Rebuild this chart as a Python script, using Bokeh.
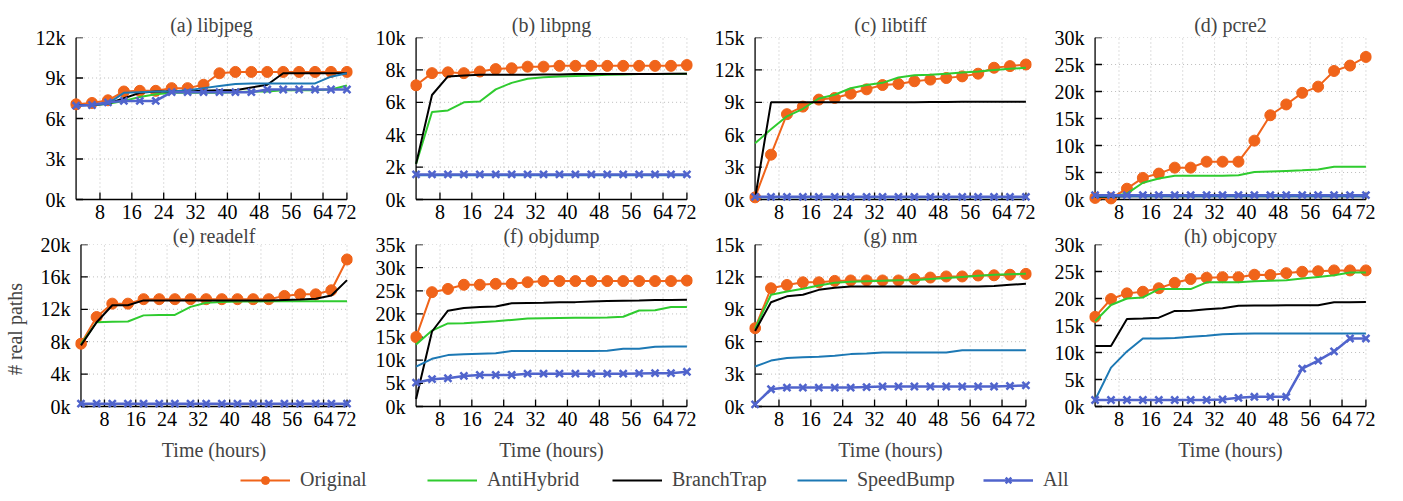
from bokeh.plotting import figure
from bokeh.layouts import column, row
from bokeh.models import FixedTicker, PrintfTickFormatter, Legend, LegendItem
from bokeh.embed import file_html
from bokeh.resources import INLINE

# ---------------- data (thousands of real paths) ----------------
sample_index = list(range(18))
x_tick_pos = [1.5, 3.5, 5.5, 7.5, 9.5, 11.5, 13.5, 15.5, 17]
x_tick_labels = ["8", "16", "24", "32", "40", "48", "56", "64", "72"]

titles = ["(a) libjpeg", "(b) libpng", "(c) libtiff", "(d) pcre2",
          "(e) readelf", "(f) objdump", "(g) nm", "(h) objcopy"]
y_max = [12, 10, 15, 30, 20, 35, 15, 30]
y_step = [3, 2, 3, 5, 4, 5, 3, 5]

series_names = ["Original", "AntiHybrid", "BranchTrap", "SpeedBump", "All"]

libjpeg_original = [7.05, 7.15, 7.35, 8.0, 8.05, 8.05, 8.25, 8.25, 8.5, 9.35, 9.45, 9.45, 9.45, 9.45, 9.45, 9.45, 9.45, 9.45]
libjpeg_antihybrid = [7.0, 7.0, 7.1, 7.3, 7.6, 7.8, 7.9, 7.9, 7.9, 7.9, 7.95, 8.0, 8.0, 8.1, 8.1, 8.1, 8.15, 8.45]
libjpeg_branchtrap = [7.0, 7.0, 7.1, 7.5, 7.9, 8.0, 8.0, 8.0, 8.05, 8.1, 8.1, 8.3, 8.5, 9.35, 9.35, 9.35, 9.35, 9.35]
libjpeg_speedbump = [6.95, 7.0, 7.1, 7.9, 7.95, 8.0, 8.0, 8.1, 8.25, 8.4, 8.55, 8.6, 8.6, 8.6, 8.6, 8.6, 9.1, 9.35]
libjpeg_all = [6.95, 7.0, 7.2, 7.3, 7.3, 7.3, 7.95, 7.95, 7.95, 7.95, 7.95, 7.95, 8.15, 8.15, 8.15, 8.15, 8.15, 8.15]

libpng_original = [7.05, 7.8, 7.85, 7.8, 7.9, 8.05, 8.1, 8.2, 8.2, 8.25, 8.25, 8.25, 8.25, 8.25, 8.25, 8.25, 8.25, 8.3]
libpng_antihybrid = [2.2, 5.4, 5.5, 6.0, 6.05, 6.8, 7.2, 7.45, 7.55, 7.6, 7.63, 7.66, 7.7, 7.72, 7.74, 7.75, 7.75, 7.77]
libpng_branchtrap = [2.2, 6.45, 7.6, 7.65, 7.7, 7.7, 7.7, 7.7, 7.72, 7.72, 7.74, 7.74, 7.75, 7.75, 7.75, 7.75, 7.77, 7.77]
libpng_speedbump = [1.5, 1.5, 1.5, 1.5, 1.5, 1.5, 1.5, 1.5, 1.5, 1.5, 1.5, 1.5, 1.5, 1.5, 1.5, 1.5, 1.5, 1.5]
libpng_all = [1.55, 1.55, 1.55, 1.55, 1.55, 1.55, 1.55, 1.55, 1.55, 1.55, 1.55, 1.55, 1.55, 1.55, 1.55, 1.55, 1.55, 1.55]

libtiff_original = [0.2, 4.15, 7.9, 8.6, 9.25, 9.4, 9.8, 10.2, 10.6, 10.7, 10.95, 11.1, 11.25, 11.4, 11.65, 12.2, 12.35, 12.5]
libtiff_antihybrid = [5.2, 6.5, 7.7, 8.4, 9.35, 9.7, 10.3, 10.6, 10.8, 11.3, 11.5, 11.55, 11.65, 11.75, 11.85, 12.0, 12.1, 12.2]
libtiff_branchtrap = [0.1, 9.0, 9.0, 9.0, 9.0, 9.0, 9.0, 9.0, 9.0, 9.0, 9.0, 9.02, 9.02, 9.05, 9.05, 9.05, 9.05, 9.05]
libtiff_speedbump = [0.2, 0.2, 0.2, 0.2, 0.2, 0.2, 0.2, 0.2, 0.2, 0.2, 0.2, 0.2, 0.2, 0.2, 0.2, 0.2, 0.2, 0.2]
libtiff_all = [0.25, 0.25, 0.25, 0.25, 0.25, 0.25, 0.25, 0.25, 0.25, 0.25, 0.25, 0.25, 0.25, 0.25, 0.25, 0.25, 0.25, 0.25]

pcre2_original = [0.3, 0.2, 2.0, 4.0, 4.8, 5.9, 5.9, 7.0, 7.0, 7.0, 10.9, 15.6, 17.6, 19.75, 20.9, 23.8, 24.8, 26.4]
pcre2_antihybrid = [0.5, 0.5, 1.1, 3.1, 3.9, 4.4, 4.4, 4.4, 4.4, 4.5, 5.1, 5.2, 5.3, 5.4, 5.55, 6.05, 6.05, 6.05]
pcre2_branchtrap = [0.5, 0.5, 0.6, 0.6, 0.6, 0.6, 0.6, 0.6, 0.6, 0.6, 0.6, 0.6, 0.6, 0.6, 0.6, 0.6, 0.6, 0.6]
pcre2_speedbump = [0.6, 0.6, 0.6, 0.6, 0.6, 0.6, 0.6, 0.6, 0.6, 0.6, 0.6, 0.6, 0.6, 0.6, 0.6, 0.6, 0.6, 0.6]
pcre2_all = [0.8, 0.8, 0.8, 0.8, 0.8, 0.8, 0.8, 0.8, 0.8, 0.8, 0.8, 0.8, 0.8, 0.8, 0.8, 0.8, 0.8, 0.8]

readelf_original = [7.75, 11.05, 12.7, 12.7, 13.25, 13.25, 13.25, 13.25, 13.25, 13.25, 13.25, 13.25, 13.25, 13.65, 13.85, 13.85, 14.35, 18.15]
readelf_antihybrid = [7.7, 10.4, 10.45, 10.5, 11.25, 11.3, 11.3, 12.3, 12.8, 12.9, 12.95, 12.95, 13.0, 13.0, 13.0, 13.0, 13.0, 13.0]
readelf_branchtrap = [7.55, 10.4, 12.5, 12.5, 13.1, 13.1, 13.1, 13.1, 13.1, 13.1, 13.1, 13.1, 13.1, 13.15, 13.2, 13.3, 13.7, 15.6]
readelf_speedbump = [0.3, 0.3, 0.3, 0.3, 0.3, 0.3, 0.3, 0.3, 0.3, 0.3, 0.3, 0.3, 0.3, 0.3, 0.3, 0.3, 0.3, 0.3]
readelf_all = [0.35, 0.35, 0.35, 0.35, 0.35, 0.35, 0.35, 0.35, 0.35, 0.35, 0.35, 0.35, 0.35, 0.35, 0.35, 0.35, 0.35, 0.35]

objdump_original = [15.0, 24.7, 25.4, 26.3, 26.3, 26.5, 26.5, 26.85, 27.1, 27.1, 27.1, 27.1, 27.1, 27.1, 27.1, 27.1, 27.1, 27.2]
objdump_antihybrid = [13.4, 16.4, 17.95, 18.0, 18.2, 18.4, 18.7, 19.0, 19.05, 19.1, 19.15, 19.2, 19.25, 19.4, 20.75, 20.8, 21.5, 21.5]
objdump_branchtrap = [1.6, 16.2, 20.7, 21.3, 21.5, 21.6, 22.3, 22.35, 22.4, 22.5, 22.55, 22.7, 22.8, 22.85, 22.9, 23.0, 23.0, 23.05]
objdump_speedbump = [8.6, 10.3, 11.1, 11.3, 11.4, 11.5, 12.0, 12.0, 12.0, 12.0, 12.0, 12.0, 12.05, 12.5, 12.5, 12.9, 12.95, 12.95]
objdump_all = [5.15, 5.9, 6.1, 6.6, 6.8, 6.8, 6.8, 7.1, 7.1, 7.1, 7.1, 7.1, 7.1, 7.1, 7.15, 7.2, 7.2, 7.5]

nm_original = [7.25, 10.95, 11.25, 11.5, 11.5, 11.63, 11.67, 11.67, 11.67, 11.67, 11.8, 11.94, 12.04, 12.04, 12.13, 12.15, 12.2, 12.28]
nm_antihybrid = [7.2, 10.35, 10.65, 10.9, 11.2, 11.45, 11.55, 11.6, 11.65, 11.7, 11.7, 11.8, 11.9, 12.0, 12.1, 12.2, 12.25, 12.3]
nm_branchtrap = [7.0, 9.65, 10.2, 10.35, 10.8, 11.0, 11.1, 11.1, 11.1, 11.1, 11.1, 11.1, 11.1, 11.1, 11.1, 11.15, 11.27, 11.36]
nm_speedbump = [3.7, 4.25, 4.5, 4.55, 4.6, 4.7, 4.85, 4.9, 5.0, 5.0, 5.0, 5.0, 5.0, 5.2, 5.2, 5.2, 5.2, 5.2]
nm_all = [0.2, 1.6, 1.75, 1.75, 1.75, 1.75, 1.75, 1.8, 1.85, 1.85, 1.85, 1.85, 1.85, 1.85, 1.85, 1.85, 1.9, 1.95]

objcopy_original = [16.6, 19.9, 20.95, 21.25, 21.9, 22.9, 23.6, 23.85, 23.95, 23.95, 24.4, 24.35, 24.7, 24.95, 25.05, 25.2, 25.2, 25.2]
objcopy_antihybrid = [15.8, 18.8, 20.0, 20.2, 21.75, 21.75, 21.75, 23.0, 23.0, 23.0, 23.2, 23.3, 23.4, 23.7, 24.0, 24.3, 24.8, 24.8]
objcopy_branchtrap = [11.2, 11.2, 16.2, 16.3, 16.45, 17.7, 17.75, 18.0, 18.2, 18.65, 18.7, 18.7, 18.75, 18.75, 18.75, 19.3, 19.3, 19.35]
objcopy_speedbump = [1.2, 7.2, 10.2, 12.6, 12.6, 12.7, 12.9, 13.1, 13.4, 13.45, 13.5, 13.5, 13.5, 13.5, 13.5, 13.5, 13.5, 13.5]
objcopy_all = [1.2, 1.2, 1.2, 1.2, 1.2, 1.2, 1.2, 1.2, 1.3, 1.6, 1.8, 1.8, 1.8, 7.0, 8.5, 10.2, 12.6, 12.6]

panel_data = [
    [libjpeg_original, libjpeg_antihybrid, libjpeg_branchtrap, libjpeg_speedbump, libjpeg_all],
    [libpng_original, libpng_antihybrid, libpng_branchtrap, libpng_speedbump, libpng_all],
    [libtiff_original, libtiff_antihybrid, libtiff_branchtrap, libtiff_speedbump, libtiff_all],
    [pcre2_original, pcre2_antihybrid, pcre2_branchtrap, pcre2_speedbump, pcre2_all],
    [readelf_original, readelf_antihybrid, readelf_branchtrap, readelf_speedbump, readelf_all],
    [objdump_original, objdump_antihybrid, objdump_branchtrap, objdump_speedbump, objdump_all],
    [nm_original, nm_antihybrid, nm_branchtrap, nm_speedbump, nm_all],
    [objcopy_original, objcopy_antihybrid, objcopy_branchtrap, objcopy_speedbump, objcopy_all],
]

# ---------------- styling / layout ----------------
COLORS = ["#f0641a", "#2fcb2f", "#000000", "#1c78b4", "#5064cc"]
FONT = "Liberation Serif"
FS = "20px"
GRID_COLOR = "#bdbdbd"

col_widths = [356, 340, 339, 340]
col_left = [70, 54, 53, 54]
FRAME_W = 282
X_PAD = 0.35
PX_PER_X = FRAME_W / (17 + 2 * X_PAD)

DATA_H = 162          # pixel height of 0..max
BOT_PAD_PX = 7
FRAME_H = DATA_H + BOT_PAD_PX
row_heights = [226, 239]
row_top = [37, 18]
title_standoff = [4, -6]
title_valign = ["bottom", "middle"]
TICK_LEN = 7


def make_panel(k):
    r, c = divmod(k, 4)
    M = y_max[k]
    px_per_y = DATA_H / M
    pad = BOT_PAD_PX / px_per_y
    p = figure(width=col_widths[c], height=row_heights[r],
               x_range=(-X_PAD, 17 + X_PAD), y_range=(-pad, M),
               title=titles[k],
               output_backend="svg", toolbar_location=None,
               min_border_left=col_left[c], min_border_right=4,
               min_border_top=row_top[r],
               min_border_bottom=row_heights[r] - row_top[r] - FRAME_H)
    p.title.align = "center"
    p.title.vertical_align = title_valign[r]
    p.title.text_font = FONT
    p.title.text_font_size = FS
    p.title.text_font_style = "normal"
    p.title.standoff = title_standoff[r]
    p.outline_line_color = None
    p.xgrid.visible = False
    p.ygrid.visible = False

    yticks = list(range(0, M + 1, y_step[k]))
    nx, ny = len(x_tick_pos), len(yticks)
    # dotted grid
    p.segment(x0=x_tick_pos, y0=[0] * nx, x1=x_tick_pos, y1=[M] * nx,
              line_color=GRID_COLOR, line_width=1, line_dash="1 3")
    p.segment(x0=[0] * ny, y0=yticks, x1=[17] * ny, y1=yticks,
              line_color=GRID_COLOR, line_width=1, line_dash="1 3")
    # axis lines and inward ticks
    p.segment(x0=[0, 0], y0=[0, 0], x1=[0, 17], y1=[M, 0], line_color="black", line_width=1.3)
    p.segment(x0=x_tick_pos, y0=[0] * nx, x1=x_tick_pos, y1=[TICK_LEN / px_per_y] * nx,
              line_color="black", line_width=1.3)
    p.segment(x0=[0] * ny, y0=yticks, x1=[TICK_LEN / PX_PER_X] * ny, y1=yticks,
              line_color="black", line_width=1.3)

    data = panel_data[k]
    for s in range(5):
        lw = 2.5 if s == 4 else 2
        p.line(sample_index, data[s], line_color=COLORS[s], line_width=lw)
        if s == 0:
            p.scatter(sample_index, data[s], marker="circle", size=11,
                      fill_color=COLORS[s], line_color=COLORS[s])
        if s == 4:
            p.scatter(sample_index, data[s], marker="x", size=10,
                      line_color=COLORS[s], line_width=2.5)

    xa = p.xaxis[0]
    xa.ticker = FixedTicker(ticks=x_tick_pos)
    xa.major_label_overrides = {pos: lab for pos, lab in zip(x_tick_pos, x_tick_labels)}
    ya = p.yaxis[0]
    ya.ticker = FixedTicker(ticks=yticks)
    ya.formatter = PrintfTickFormatter(format="%dk")
    for ax in (xa, ya):
        ax.axis_line_color = None
        ax.major_tick_line_color = None
        ax.minor_tick_line_color = None
        ax.major_tick_in = 0
        ax.major_tick_out = 0
        ax.major_label_text_font = FONT
        ax.major_label_text_font_size = FS
        ax.major_label_text_color = "black"
        ax.axis_label_text_font = FONT
        ax.axis_label_text_font_size = FS
        ax.axis_label_text_font_style = "normal"
    xa.major_label_standoff = -2
    ya.major_label_standoff = 5
    if r == 1:
        xa.axis_label = "Time (hours)"
        xa.axis_label_standoff = 10
    if k == 4:
        ya.axis_label = "# real paths"
        ya.axis_label_standoff = 12
    return p


panels = [make_panel(k) for k in range(8)]

# ---------------- legend strip ----------------
leg = figure(width=1375, height=35, x_range=(0, 1), y_range=(0, 1),
             output_backend="svg", toolbar_location=None,
             min_border_left=0, min_border_right=0, min_border_top=0, min_border_bottom=0)
leg.axis.visible = False
leg.xgrid.visible = False
leg.ygrid.visible = False
leg.outline_line_color = None
legend_x = [240, 427, 612, 797, 983]
off = [5, 6]  # points kept outside the visible range; only the legend glyphs show
for s, name in enumerate(series_names):
    rends = [leg.line(x=off, y=off, line_color=COLORS[s], line_width=2.5 if s == 4 else 2)]
    if s == 0:
        rends.append(leg.scatter(x=off, y=off, marker="circle", size=11,
                                 fill_color=COLORS[s], line_color=COLORS[s]))
    if s == 4:
        rends.append(leg.scatter(x=off, y=off, marker="x", size=10,
                                 line_color=COLORS[s], line_width=2.5))
    lg = Legend(items=[LegendItem(label=name, renderers=rends)],
                location=(legend_x[s], 9), orientation="horizontal",
                glyph_width=50, glyph_height=20, label_height=20, label_standoff=10,
                padding=0, margin=0, spacing=0, border_line_color=None,
                background_fill_alpha=0, label_text_font=FONT, label_text_font_size=FS)
    leg.add_layout(lg)

layout = column(row(*panels[:4], spacing=0), row(*panels[4:], spacing=0), leg, spacing=0)

open("out.html", "w").write(file_html(layout, INLINE))
